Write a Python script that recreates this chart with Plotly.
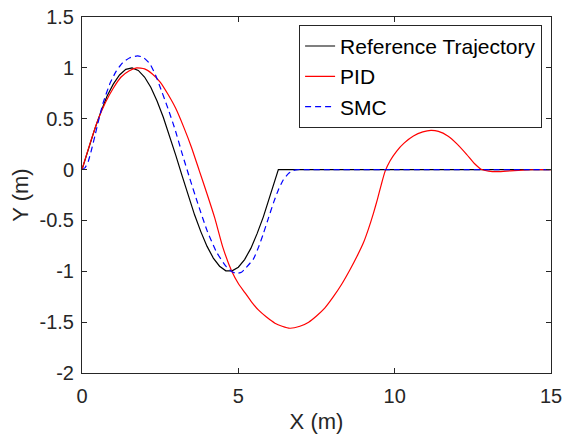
import plotly.graph_objects as go

# Reference trajectory (black)
ref_x = [0, 0.2, 0.4, 0.6, 0.8, 1.0, 1.2, 1.4, 1.6, 1.8, 2.0, 2.2, 2.4, 2.6, 2.8, 3.0, 3.2,
         3.4, 3.6, 3.8, 4.0, 4.2, 4.4, 4.6, 4.8, 5.0, 5.2, 5.4, 5.6, 5.8, 6.0, 6.2, 6.28, 15]
ref_y = [0, 0.20, 0.39, 0.565, 0.72, 0.84, 0.93, 0.985, 1.0, 0.975, 0.91, 0.81, 0.675, 0.515, 0.335, 0.14, -0.06,
         -0.255, -0.445, -0.61, -0.755, -0.87, -0.95, -0.995, -0.995, -0.96, -0.885, -0.775, -0.63, -0.465, -0.28, -0.085, 0, 0]

# PID (red)
pid_x = [0, 0.25, 0.5, 0.75, 1.0, 1.25, 1.5, 1.75, 2.0, 2.25, 2.5, 2.75, 3.0, 3.25, 3.5, 3.75,
         4.0, 4.25, 4.5, 4.79, 5.0, 5.21, 5.42, 5.64, 5.9, 6.17, 6.4, 6.65, 6.97, 7.25, 7.5,
         7.77, 8.04, 8.3, 8.57, 8.8, 9.0, 9.16, 9.32, 9.45, 9.57, 9.69, 9.85, 10.06, 10.3,
         10.6, 10.9, 11.16, 11.4, 11.7, 12.0, 12.3, 12.55, 12.78, 13.0, 13.3, 13.7, 14.2, 14.6, 15]
pid_y = [0, 0.25, 0.48, 0.66, 0.80, 0.91, 0.97, 1.0, 0.99, 0.94, 0.86, 0.74, 0.60, 0.42, 0.22, -0.01,
         -0.24, -0.48, -0.76, -1.0, -1.12, -1.21, -1.30, -1.38, -1.45, -1.51, -1.54, -1.56, -1.54, -1.50, -1.44,
         -1.36, -1.25, -1.13, -0.985, -0.85, -0.72, -0.585, -0.43, -0.29, -0.15, -0.02, 0.085, 0.18, 0.26,
         0.33, 0.37, 0.385, 0.375, 0.33, 0.25, 0.15, 0.06, 0.0, -0.015, -0.02, -0.012, -0.004, 0, 0]

# SMC (blue dashed)
smc_x = [0, 0.1, 0.2, 0.3, 0.42, 0.52, 0.68, 0.9, 1.1, 1.3, 1.53, 1.78, 1.95, 2.17, 2.35, 2.5,
         2.75, 2.97, 3.2, 3.45, 3.7, 4.0, 4.3, 4.6, 4.8, 4.95, 5.1, 5.2, 5.48, 5.65, 5.8, 5.96,
         6.12, 6.28, 6.44, 6.6, 6.75, 6.9, 7.2, 8, 9, 10, 11, 12, 13, 14, 15]
smc_y = [0, 0.02, 0.08, 0.19, 0.34, 0.47, 0.66, 0.85, 0.97, 1.05, 1.10, 1.118, 1.105, 1.04, 0.93, 0.81,
         0.60, 0.40, 0.16, -0.09, -0.33, -0.60, -0.81, -0.95, -1.005, -1.02, -1.01, -0.98, -0.88, -0.76, -0.63, -0.48,
         -0.33, -0.20, -0.10, -0.04, -0.01, 0, 0, 0, 0, 0, 0, 0, 0, 0, 0]

x_ticks = [0, 5, 10, 15]
x_ticklabels = ["0", "5", "10", "15"]
y_ticks = [-2, -1.5, -1, -0.5, 0, 0.5, 1, 1.5]
y_ticklabels = ["-2", "-1.5", "-1", "-0.5", "0", "0.5", "1", "1.5"]

FONT = "Liberation Sans, Arial, Helvetica"
AX = "#262626"

fig = go.Figure()
fig.add_trace(go.Scatter(x=ref_x, y=ref_y, mode="lines", name="Reference Trajectory",
                         line=dict(color="black", width=1.2)))
fig.add_trace(go.Scatter(x=pid_x, y=pid_y, mode="lines", name="PID",
                         line=dict(color="#ff0000", width=1.2, shape="spline", smoothing=0.5)))
fig.add_trace(go.Scatter(x=smc_x, y=smc_y, mode="lines", name="SMC",
                         line=dict(color="#0000ff", width=1.2, dash="6px,4px", shape="spline", smoothing=0.5)))

axis_common = dict(showgrid=False, zeroline=False, showline=True, linecolor=AX, linewidth=1,
                   mirror="ticks", ticks="inside", ticklen=5, tickcolor=AX, automargin=False,
                   tickfont=dict(family=FONT, size=20, color=AX))

fig.update_xaxes(range=[0, 15], tickvals=x_ticks, ticktext=x_ticklabels, ticklabelstandoff=5,
                 title=dict(text="X (m)", font=dict(family=FONT, size=22, color=AX), standoff=7),
                 **axis_common)
fig.update_yaxes(range=[-2, 1.5], tickvals=y_ticks, ticktext=y_ticklabels, ticklabelstandoff=3,
                 title=dict(text="Y (m)", font=dict(family=FONT, size=22, color=AX), standoff=4),
                 **axis_common)

fig.update_layout(
    width=565, height=438,
    margin=dict(l=82, r=14, t=17, b=65),
    paper_bgcolor="white", plot_bgcolor="white",
    showlegend=True,
    legend=dict(x=0.981, y=0.978, xanchor="right", yanchor="top",
                bgcolor="white", bordercolor=AX, borderwidth=1,
                font=dict(family=FONT, size=21, color="black"),
                tracegroupgap=0, itemwidth=30),
)

fig.write_html("out.html", config={"displayModeBar": False},
               post_script="document.body.style.margin='0';")
